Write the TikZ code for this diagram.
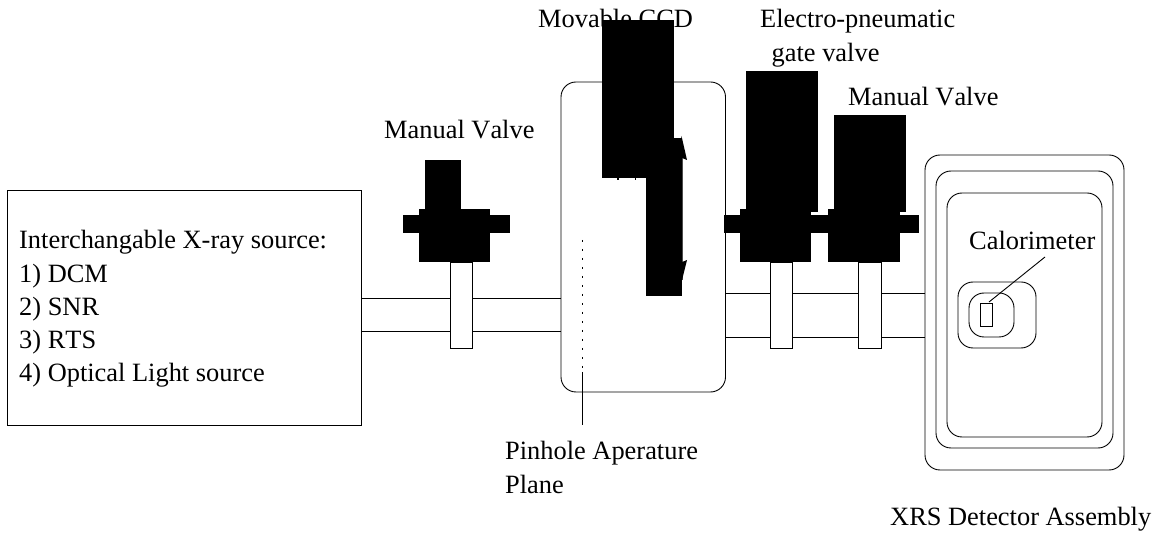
\documentclass[tikz,border=0pt]{standalone}
\usepackage{fontspec}
\setmainfont[Kerning=Off]{Liberation Serif}
\tikzset{
  line/.style={draw=black,line width=0.9pt},
  solid block/.style={fill=black,draw=none},
  pipestem/.style={draw=black,fill=white,line width=0.9pt},
  lbl/.style={inner sep=0pt,font=\fontsize{26.4}{30}\selectfont,anchor=base west,align=left},
  rbox/.style={line,rounded corners=#1},
}
\begin{document}
\begin{tikzpicture}[x=1pt,y=-1pt]
\useasboundingbox (0,0) rectangle (1160,534);
% labels that the blocks overlap come first
\node[lbl] (ccd) at (538,27.5) {Movable CCD};
% source
\draw[line] (7,190) rectangle (361,425);
% pipes
\draw[line] (361,298) -- (561,298);
\draw[line] (361,331) -- (561,331);
\draw[line] (725,293) -- (925,293);
\draw[line] (725,337) -- (925,337);
% chamber
\draw[rbox=15pt] (561,82) rectangle (725.5,392);
% stems
\draw[pipestem] (450,262) rectangle (472,348);
\draw[pipestem] (770.5,262) rectangle (792.5,348);
\draw[pipestem] (858.5,262) rectangle (881,348);
% valve 1
\fill[solid block] (425,160) rectangle (461,210);
\fill[solid block] (419,209) rectangle (490,262);
\fill[solid block] (403,215) rectangle (510,233);
% valve 2
\fill[solid block] (746,71) rectangle (818,212);
\fill[solid block] (740,209) rectangle (811,262);
\fill[solid block] (724,215) rectangle (831,233);
% valve 3
\fill[solid block] (834,115) rectangle (906,212);
\fill[solid block] (828,209) rectangle (900,262);
\fill[solid block] (812,215) rectangle (919,233);
% CCD
\fill[solid block] (602,20) rectangle (674,178);
\fill[solid block] (646,138) rectangle (682,296);
\fill[solid block] (617.3,178) rectangle (618.7,179.6);
\fill[solid block] (634.8,178) rectangle (636.2,179.6);
% arrow
\draw[line width=0.9pt,draw=black!70] (682,150) -- (682,280);
\fill (681.5,136) -- (687,160) -- (682,158) -- (680,150) -- cycle;
\fill (687,260) -- (681,284) -- (680,270) -- (682,262) -- cycle;
% pinhole
\draw[line width=1pt,dash pattern=on 1.7pt off 7.3pt] (582,240) -- (582,369);
\draw[line] (582,372) -- (582,425);
% detector
\draw[rbox=15pt] (925,155) rectangle (1124,470);
\draw[rbox=15pt] (936,171) rectangle (1113,448);
\draw[rbox=15pt] (947,193) rectangle (1102,437);
\draw[rbox=15pt] (958,282) rectangle (1036,348);
\draw[rbox=15pt] (969,293) rectangle (1014,337);
\draw[line] (980,303) rectangle (992,326);
\draw[line] (989,302) -- (1045,257);
% labels
\node[lbl] (src) at (19,249) {Interchangable X-ray source:};
\node[lbl] (s1) at (19,282.5) {1) DCM};
\node[lbl] (s2) at (19,315.5) {2) SNR};
\node[lbl] (s3) at (19,348.5) {3) RTS};
\node[lbl] (s4) at (19,382) {4) Optical Light source};
\node[lbl] (mv1) at (384,138.5) {Manual Valve};
\node[lbl] (ep1) at (760,27.5) {Electro-pneumatic};
\node[lbl] (ep2) at (771.5,62) {gate valve};
\node[lbl] (mv2) at (848,105.5) {Manual Valve};
\node[lbl] (cal) at (969,249.5) {Calorimeter};
\node[lbl] (ph1) at (505,459.5) {Pinhole Aperature};
\node[lbl] (ph2) at (505,493.5) {Plane};
\node[lbl] (xrs) at (890,525.5) {XRS Detector Assembly};
\end{tikzpicture}
\end{document}
